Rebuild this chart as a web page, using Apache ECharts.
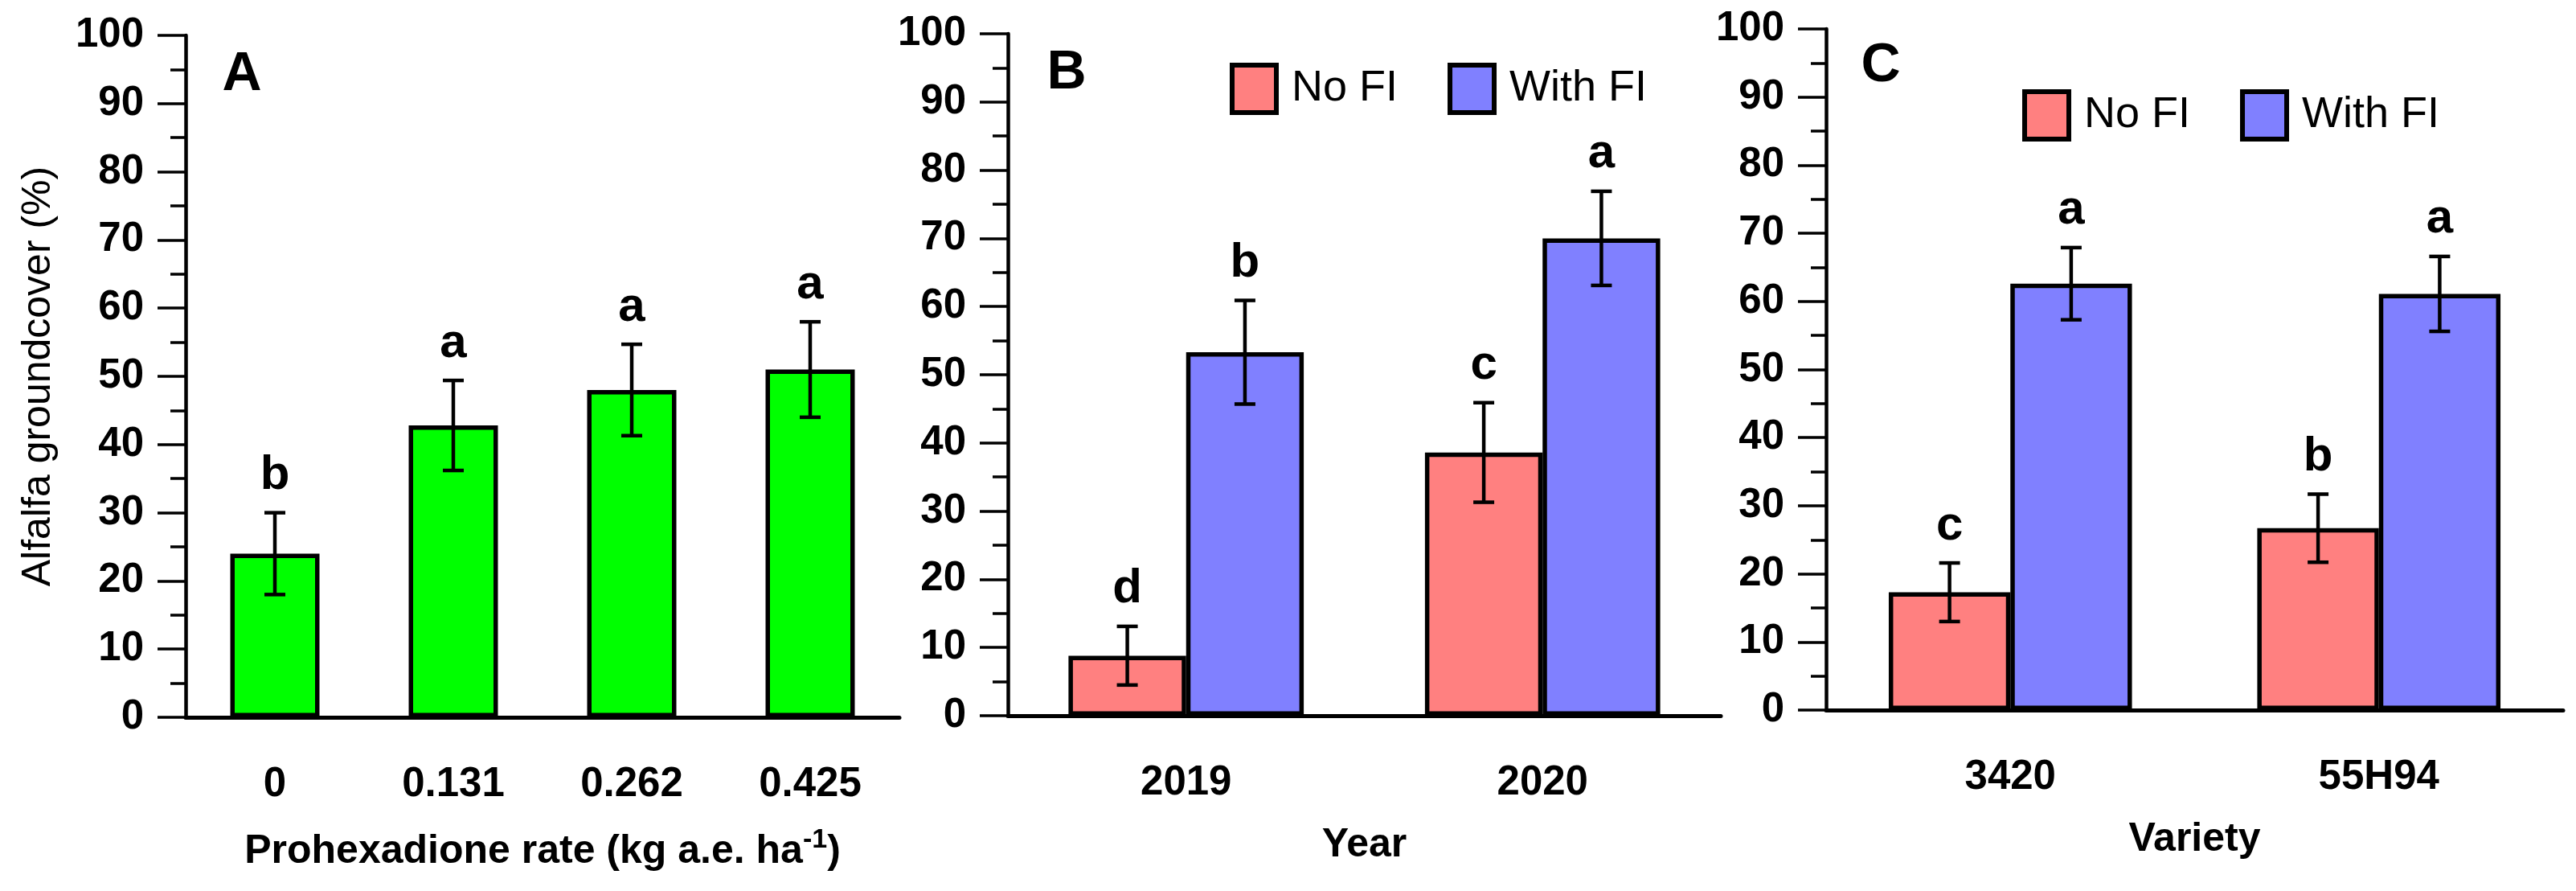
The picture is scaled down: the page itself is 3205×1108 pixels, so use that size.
<!DOCTYPE html>
<html>
<head>
    <meta charset="utf-8">
    <title>Alfalfa groundcover</title>
    <script src="https://cdn.jsdelivr.net/npm/echarts@6/dist/echarts.min.js"></script>
    <style>
        body, html { margin: 0; padding: 0; height: 100%; overflow: hidden; background: #fff; }
        #main { width: 100%; height: 100vh; }
    </style>
</head>
<body>
    <div id="main"></div>
    <script>
        // panel A: prohexadione rate
        const rateCats = ['0', '0.131', '0.262', '0.425'];
        const rateMean = [24, 42.8, 48, 51];
        const rateErr = [6, 6.6, 6.7, 7];
        const rateLetters = ['b', 'a', 'a', 'a'];

        // panel B: year
        const yearCats = ['2019', '2020'];
        const yearNoFi = [8.8, 38.6];
        const yearNoFiErr = [4.3, 7.3];
        const yearNoFiLetters = ['d', 'c'];
        const yearWithFi = [53.3, 70];
        const yearWithFiErr = [7.6, 6.9];
        const yearWithFiLetters = ['b', 'a'];

        // panel C: variety
        const varietyCats = ['3420', '55H94'];
        const varNoFi = [17.3, 26.7];
        const varNoFiErr = [4.3, 5];
        const varNoFiLetters = ['c', 'b'];
        const varWithFi = [62.6, 61.1];
        const varWithFiErr = [5.3, 5.5];
        const varWithFiLetters = ['a', 'a'];

        const yTicks = [0, 100, 10];

        const sans = '"Liberation Sans", Arial, sans-serif';
        const green = '#00ff00', pink = '#ff8080', blue = '#8080ff';

        var chart = echarts.init(document.getElementById('main'));

        // error bar + letter drawn on top of a bar
        function errRender(means, errs, letters, side, frac) {
            return function (params, api) {
                var i = params.dataIndex;
                var band = api.size([1, 0])[0];
                var x = api.coord([i, means[i]])[0] + side * band * frac / 2;
                var top = api.coord([i, means[i] + errs[i]])[1];
                var bot = api.coord([i, means[i] - errs[i]])[1];
                var cap = 13;
                var ls = { stroke: '#000', lineWidth: 4.5 };
                return {
                    type: 'group',
                    children: [
                        { type: 'line', shape: { x1: x, y1: top, x2: x, y2: bot }, style: ls },
                        { type: 'line', shape: { x1: x - cap, y1: top, x2: x + cap, y2: top }, style: ls },
                        { type: 'line', shape: { x1: x - cap, y1: bot, x2: x + cap, y2: bot }, style: ls },
                        {
                            type: 'text', x: x, y: top - 16,
                            style: {
                                text: letters[i], textAlign: 'center', textVerticalAlign: 'bottom',
                                font: 'bold 60px ' + sans, fill: '#000'
                            }
                        }
                    ]
                };
            };
        }

        function xAxisFor(idx, cats, name) {
            return {
                type: 'category', gridIndex: idx, data: cats, offset: 14,
                name: name, nameLocation: 'middle', nameGap: 122,
                nameTextStyle: {
                    fontFamily: sans, fontWeight: 'bold', fontSize: 50, color: '#000',
                    rich: {
                        n: { fontFamily: sans, fontWeight: 'bold', fontSize: 50, color: '#000', lineHeight: 62 },
                        sup: { fontFamily: sans, fontWeight: 'bold', fontSize: 34, color: '#000', lineHeight: 34, verticalAlign: 'top' }
                    }
                },
                axisLine: { lineStyle: { color: '#000', width: 5 } },
                axisTick: { length: 35, lineStyle: { color: '#000', width: 2.5 } },
                axisLabel: { interval: 0, margin: 44, color: '#000', fontFamily: sans, fontWeight: 'bold', fontSize: 51 },
                splitLine: { show: false }
            };
        }

        function yAxisFor(idx, name) {
            return {
                type: 'value', gridIndex: idx, min: yTicks[0], max: yTicks[1], interval: yTicks[2],
                name: name, nameLocation: 'middle', nameGap: 158,
                nameTextStyle: { fontFamily: sans, fontSize: 50, color: '#000' },
                axisLine: { show: true, lineStyle: { color: '#000', width: 4.5 } },
                axisTick: { show: true, length: 35, lineStyle: { color: '#000', width: 3.5 } },
                minorTick: { show: true, splitNumber: 2, length: 19, lineStyle: { color: '#000', width: 3.5 } },
                axisLabel: { margin: 52, color: '#000', fontFamily: sans, fontWeight: 'bold', fontSize: 51 },
                splitLine: { show: false }
            };
        }

        function barSeries(name, idx, data, color, width) {
            return {
                name: name, type: 'bar', xAxisIndex: idx, yAxisIndex: idx, data: data,
                barWidth: width, barGap: '0%',
                itemStyle: { color: color, borderColor: '#000', borderWidth: 5.5 },
                emphasis: { disabled: true }
            };
        }

        function errSeries(idx, means, errs, letters, side, frac) {
            return {
                type: 'custom', xAxisIndex: idx, yAxisIndex: idx, z: 5,
                data: means.map(function (m, i) { return [i, m]; }),
                renderItem: errRender(means, errs, letters, side, frac),
                silent: true
            };
        }

        function panelLabel(text, x, y) {
            return {
                type: 'text', x: x, y: y,
                style: { text: text, textAlign: 'center', textVerticalAlign: 'middle', font: 'bold 68px ' + sans, fill: '#000' }
            };
        }

        function legendAt(left, top) {
            return {
                data: ['No FI', 'With FI'], left: left, top: top, orient: 'horizontal',
                icon: 'rect', itemWidth: 55, itemHeight: 59, itemGap: 62,
                itemStyle: { borderColor: '#000', borderWidth: 6 },
                textStyle: { fontFamily: sans, fontSize: 54, color: '#000', padding: [0, 0, 0, 14] },
                selectedMode: false
            };
        }

        var option = {
            backgroundColor: '#fff',
            animation: false,
            grid: [
                { left: 231, top: 44, width: 888, height: 848 },
                { left: 1254, top: 42, width: 887, height: 848 },
                { left: 2272, top: 36, width: 917, height: 847 }
            ],
            xAxis: [
                xAxisFor(0, rateCats, '{n|Prohexadione rate (kg a.e. ha}{sup|-1}{n|)}'),
                xAxisFor(1, yearCats, 'Year'),
                xAxisFor(2, varietyCats, 'Variety')
            ],
            yAxis: [
                yAxisFor(0, 'Alfalfa groundcover (%)'),
                yAxisFor(1, ''),
                yAxisFor(2, '')
            ],
            legend: [legendAt(1525, 73), legendAt(2511, 106)],
            graphic: [
                panelLabel('A', 301, 93),
                panelLabel('B', 1327, 91),
                panelLabel('C', 2340, 82)
            ],
            series: [
                barSeries('Groundcover', 0, rateMean, green, '50%'),
                errSeries(0, rateMean, rateErr, rateLetters, 0, 0.5),

                barSeries('No FI', 1, yearNoFi, pink, '33%'),
                barSeries('With FI', 1, yearWithFi, blue, '33%'),
                errSeries(1, yearNoFi, yearNoFiErr, yearNoFiLetters, -1, 0.33),
                errSeries(1, yearWithFi, yearWithFiErr, yearWithFiLetters, 1, 0.33),

                barSeries('No FI', 2, varNoFi, pink, '33%'),
                barSeries('With FI', 2, varWithFi, blue, '33%'),
                errSeries(2, varNoFi, varNoFiErr, varNoFiLetters, -1, 0.33),
                errSeries(2, varWithFi, varWithFiErr, varWithFiLetters, 1, 0.33)
            ]
        };

        chart.setOption(option);
        window.addEventListener('resize', function () { chart.resize(); });
    </script>
</body>
</html>
